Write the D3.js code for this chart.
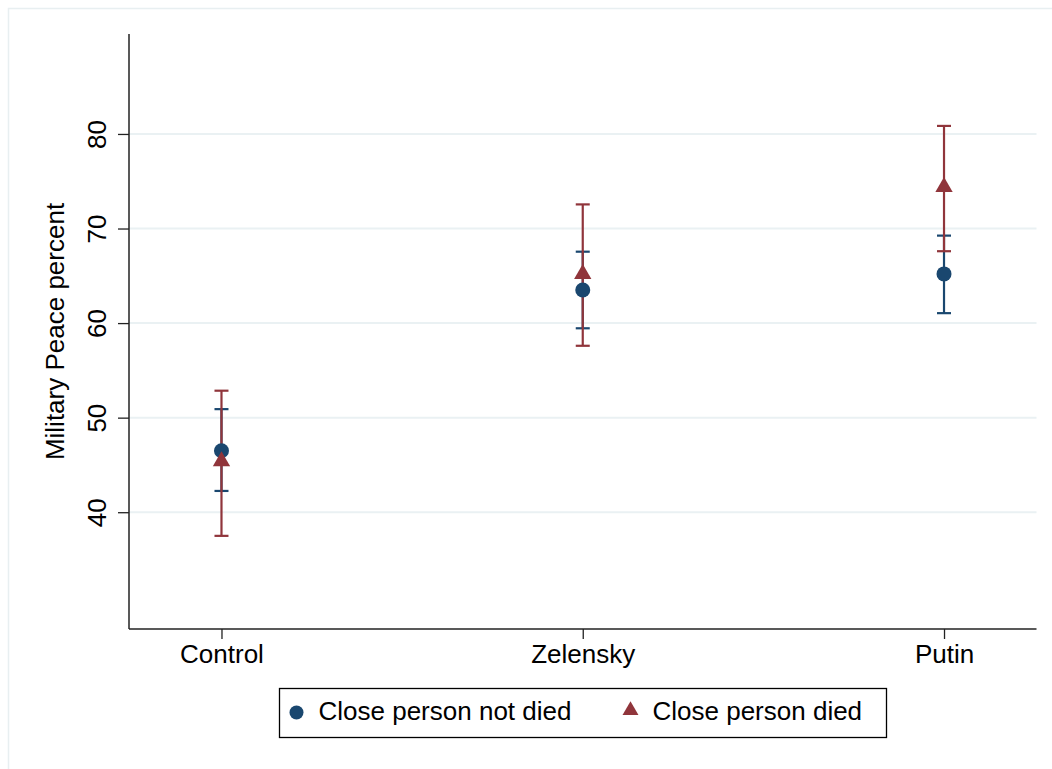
<!DOCTYPE html>
<html>
<head>
<meta charset="utf-8">
<script src="https://cdn.jsdelivr.net/npm/d3@7"></script>
<style>
  body { margin: 0; background: #fff; }
  svg { display: block; font-family: "Liberation Sans", Arial, sans-serif; }
</style>
</head>
<body>
<div id="chart"></div>
<script>
// Data
const categories = ["Control", "Zelensky", "Putin"];
const seriesNames = ["Close person not died", "Close person died"];
const notDiedMean = [46.5, 63.5, 65.2];
const notDiedLow = [42.25, 59.45, 61.05];
const notDiedHigh = [50.9, 67.55, 69.25];
const diedMean = [45.4, 65.2, 74.4];
const diedLow = [37.5, 57.6, 67.6];
const diedHigh = [52.85, 72.55, 80.85];
const yTicks = [40, 50, 60, 70, 80];

const W = 1052, H = 769;
const margin = { top: 34, right: 15, bottom: 140, left: 129 };
const width = 1036.5 - margin.left;
const height = 629 - margin.top;
const fs = 26;

const navy = "#1a476f", maroon = "#90353b";

const svg = d3.select("#chart").append("svg")
    .attr("width", W)
    .attr("height", H);

// outer frame
svg.append("rect")
    .attr("x", 8.5).attr("y", 8.5)
    .attr("width", W + 20).attr("height", H + 20)
    .attr("fill", "none")
    .attr("stroke", "#e8eff1")
    .attr("stroke-width", 1.5);

const g = svg.append("g")
    .attr("transform", `translate(${margin.left},${margin.top})`);

// scales
const x = d3.scaleLinear().domain([0.744, 3.256]).range([0, width]);
const y = d3.scaleLinear().domain([27.65, 90.57]).range([height, 0]);

// grid
g.append("g").selectAll("line")
    .data(yTicks)
    .enter().append("line")
    .attr("x1", 0).attr("x2", width)
    .attr("y1", d => y(d)).attr("y2", d => y(d))
    .attr("stroke", "#eaf1f3")
    .attr("stroke-width", 2);

// y axis
const yAxis = g.append("g")
    .call(d3.axisLeft(y).tickValues(yTicks).tickSize(11).tickPadding(0).tickFormat(d3.format("d")));
yAxis.select(".domain").attr("stroke", "#222").attr("stroke-width", 1.5)
    .attr("d", `M0,0V${height}`);
yAxis.selectAll(".tick line").attr("stroke", "#222").attr("stroke-width", 1.3);
yAxis.selectAll(".tick text")
    .attr("x", 0).attr("y", 0)
    .attr("transform", "translate(-23,0) rotate(-90)")
    .attr("text-anchor", "middle")
    .attr("dy", 0)
    .attr("font-size", fs)
    .attr("font-family", "Liberation Sans, Arial, sans-serif")
    .attr("fill", "#000");

// x axis
const xAxis = g.append("g")
    .attr("transform", `translate(0,${height})`)
    .call(d3.axisBottom(x).tickValues([1, 2, 3]).tickSize(10).tickPadding(6)
        .tickFormat((d, i) => categories[i]));
xAxis.select(".domain").attr("stroke", "#222").attr("stroke-width", 1.5)
    .attr("d", `M0,0H${width}`);
xAxis.selectAll(".tick line").attr("stroke", "#222").attr("stroke-width", 1.3);
xAxis.selectAll(".tick text")
    .attr("font-size", fs)
    .attr("font-family", "Liberation Sans, Arial, sans-serif")
    .attr("fill", "#000");

// y title
g.append("text")
    .attr("transform", `translate(${64 - margin.left},${height / 2}) rotate(-90)`)
    .attr("text-anchor", "middle")
    .attr("font-size", fs)
    .attr("fill", "#000")
    .text("Military Peace percent");

// error bars
const capW = 7;
function drawCI(low, high, color) {
    const grp = g.append("g").attr("stroke", color).attr("stroke-width", 2.2).attr("fill", "none");
    categories.forEach((c, i) => {
        const cx = x(i + 1);
        grp.append("line").attr("x1", cx).attr("x2", cx).attr("y1", y(low[i])).attr("y2", y(high[i]));
        grp.append("line").attr("x1", cx - capW).attr("x2", cx + capW).attr("y1", y(low[i])).attr("y2", y(low[i]));
        grp.append("line").attr("x1", cx - capW).attr("x2", cx + capW).attr("y1", y(high[i])).attr("y2", y(high[i]));
    });
}
drawCI(notDiedLow, notDiedHigh, navy);
drawCI(diedLow, diedHigh, maroon);

// markers
g.append("g").selectAll("circle")
    .data(notDiedMean)
    .enter().append("circle")
    .attr("cx", (d, i) => x(i + 1))
    .attr("cy", d => y(d))
    .attr("r", 7.5)
    .attr("fill", navy);

const tri = d3.symbol().type(d3.symbolTriangle).size(130);
g.append("g").selectAll("path")
    .data(diedMean)
    .enter().append("path")
    .attr("d", tri)
    .attr("transform", (d, i) => `translate(${x(i + 1)},${y(d)})`)
    .attr("fill", maroon);

// legend
const leg = svg.append("g").attr("transform", "translate(279.5,688.5)");
leg.append("rect")
    .attr("width", 607).attr("height", 49)
    .attr("fill", "#fff")
    .attr("stroke", "#000")
    .attr("stroke-width", 1.3);
leg.append("circle").attr("cx", 17).attr("cy", 24).attr("r", 7).attr("fill", navy);
leg.append("text").attr("x", 39).attr("y", 31).attr("font-size", fs).attr("fill", "#000").text(seriesNames[0]);
leg.append("path").attr("d", d3.symbol().type(d3.symbolTriangle).size(110))
    .attr("transform", "translate(351,22)").attr("fill", maroon);
leg.append("text").attr("x", 373).attr("y", 31).attr("font-size", fs).attr("fill", "#000").text(seriesNames[1]);
</script>
</body>
</html>
